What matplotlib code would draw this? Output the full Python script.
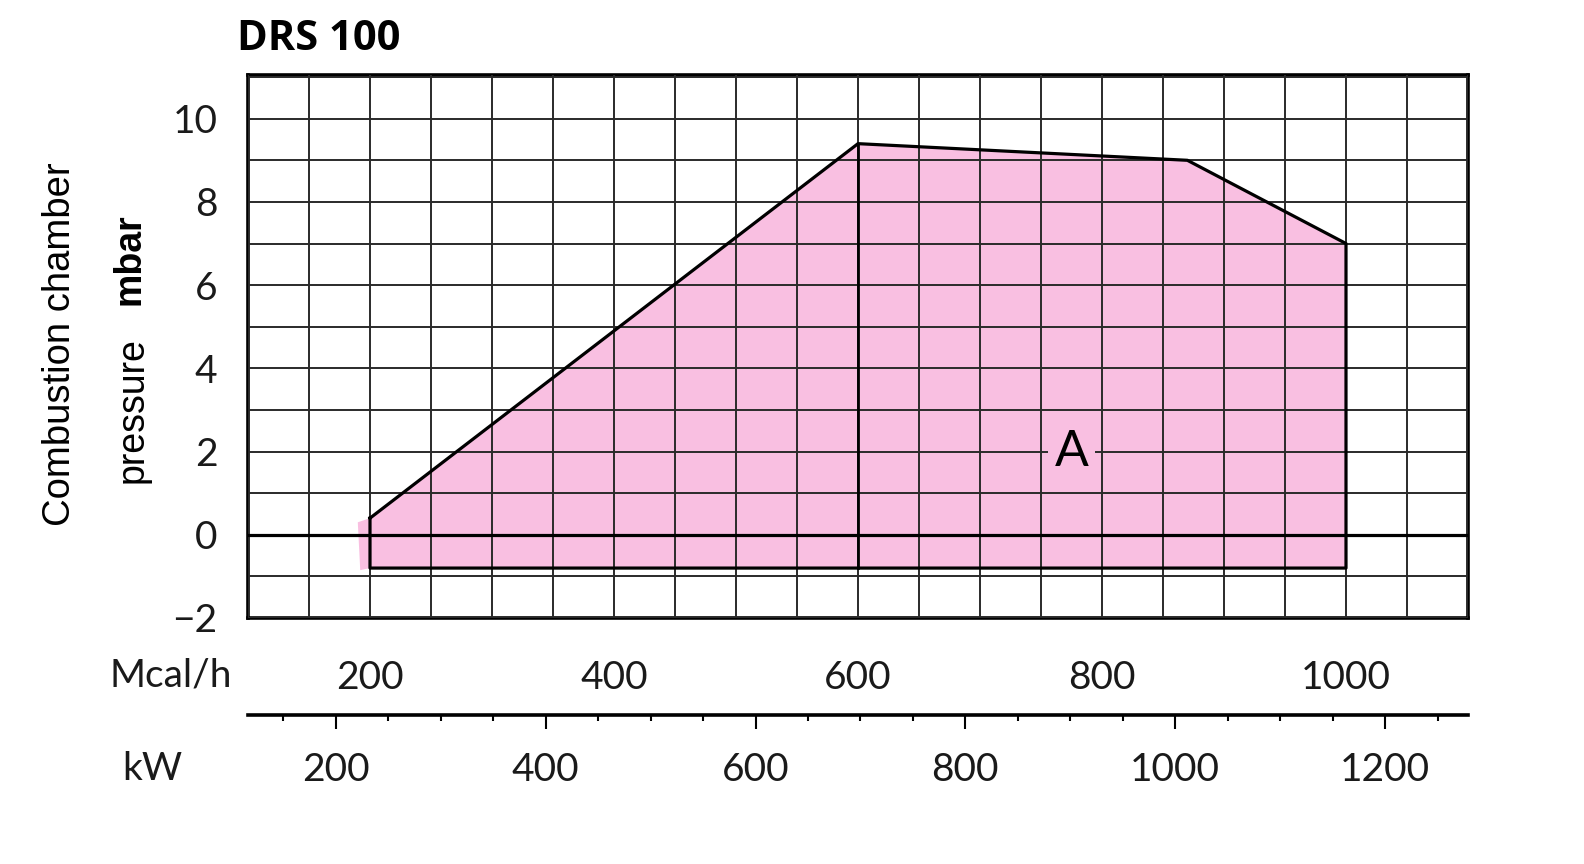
import matplotlib.pyplot as plt
import numpy as np
from matplotlib.ticker import MultipleLocator

# working field of the burner (Mcal/h, mbar)
field_mcal = [200, 600, 870, 1000, 1000, 200]
field_mbar = [0.4, 9.4, 9.0, 7.0, -0.8, -0.8]
# small pink overhang at the left edge of the field
sliver_mcal = [190, 200, 200, 192]
sliver_mbar = [0.3, 0.4, -0.8, -0.85]
divider_mcal = 600

mcal_ticks = [200, 400, 600, 800, 1000]
kw_ticks = [200, 400, 600, 800, 1000, 1200]
mbar_ticks = [-2, 0, 2, 4, 6, 8, 10]

KW_TO_MCAL = 0.86
pink = '#f9bfe1'
thin = {'family': ['Lato', 'DejaVu Sans'], 'color': '#1a1a1a'}

fig = plt.figure(figsize=(15.84, 8.64), dpi=100)
ax = fig.add_axes([248/1584, 1-618/864, 1220/1584, 543/864])

ax.set_xlim(100, 1100)
ax.set_ylim(-2, 11.05)

# grid
ax.xaxis.set_minor_locator(MultipleLocator(50))
ax.yaxis.set_minor_locator(MultipleLocator(1))
ax.grid(True, which='both', color='#2a2a2a', linewidth=1.4, zorder=1)
ax.set_axisbelow(False)

ax.fill(sliver_mcal, sliver_mbar, color=pink, lw=0, zorder=0.5)
ax.fill(field_mcal, field_mbar, facecolor=pink, edgecolor='none', zorder=0.5)
ax.plot(field_mcal + field_mcal[:1], field_mbar + field_mbar[:1], color='black', lw=2.3, zorder=3)
ax.plot([divider_mcal, divider_mcal], [field_mbar[1], -0.8], color='black', lw=2.0, zorder=3)
ax.axhline(0, color='black', lw=2.3, zorder=3)

ax.text(775, 2.0, 'A', fontsize=36, ha='center', va='center', zorder=4,
        family=['Lato', 'DejaVu Sans'], bbox=dict(facecolor=pink, edgecolor='none', pad=5))

for s in ax.spines.values():
    s.set_linewidth(2.6)

ax.set_xticks(mcal_ticks)
ax.set_xticklabels([str(v) for v in mcal_ticks], fontsize=28, **thin)
ax.set_yticks(mbar_ticks)
ax.set_yticklabels(['\u2212' + str(-v) if v < 0 else str(v) for v in mbar_ticks], fontsize=28, **thin)
ax.tick_params(axis='x', which='both', length=0, pad=30)
ax.tick_params(axis='y', which='both', length=0, pad=22)

# kW scale under the chart
sec = ax.secondary_xaxis(-0.178, functions=(lambda m: m / KW_TO_MCAL, lambda k: k * KW_TO_MCAL))
sec.set_xticks(kw_ticks)
sec.set_xticklabels([str(v) for v in kw_ticks], fontsize=28, **thin)
sec.xaxis.set_minor_locator(MultipleLocator(50))
sec.tick_params(axis='x', which='major', length=10, width=1.5, pad=17)
sec.tick_params(axis='x', which='minor', length=4, width=1.5)
sec.spines['bottom'].set_linewidth(2.6)

fig.text(232/1584, 1-675/864, 'Mcal/h', fontsize=28, ha='right', va='center', **thin)
fig.text(182/1584, 1-769/864, 'kW', fontsize=28, ha='right', va='center', **thin)

fig.text(237/1584, 1-40/864, 'DRS 100', fontsize=30, fontweight='bold', ha='left', va='center',
         family=['Open Sans', 'DejaVu Sans'])
fig.text(60/1584, 1-344/864, 'Combustion chamber', fontsize=27.5, rotation=90, ha='center', va='center',
         family=['Liberation Sans', 'DejaVu Sans'])
fig.text(133/1584, 1-410/864, 'pressure', fontsize=27, rotation=90, ha='center', va='center',
         family=['Liberation Sans', 'DejaVu Sans'])
fig.text(130/1584, 1-259/864, 'mbar', fontsize=27, fontweight='bold', rotation=90, ha='center', va='center',
         family=['Liberation Sans', 'DejaVu Sans'])

fig.savefig('out.png', dpi=100)
